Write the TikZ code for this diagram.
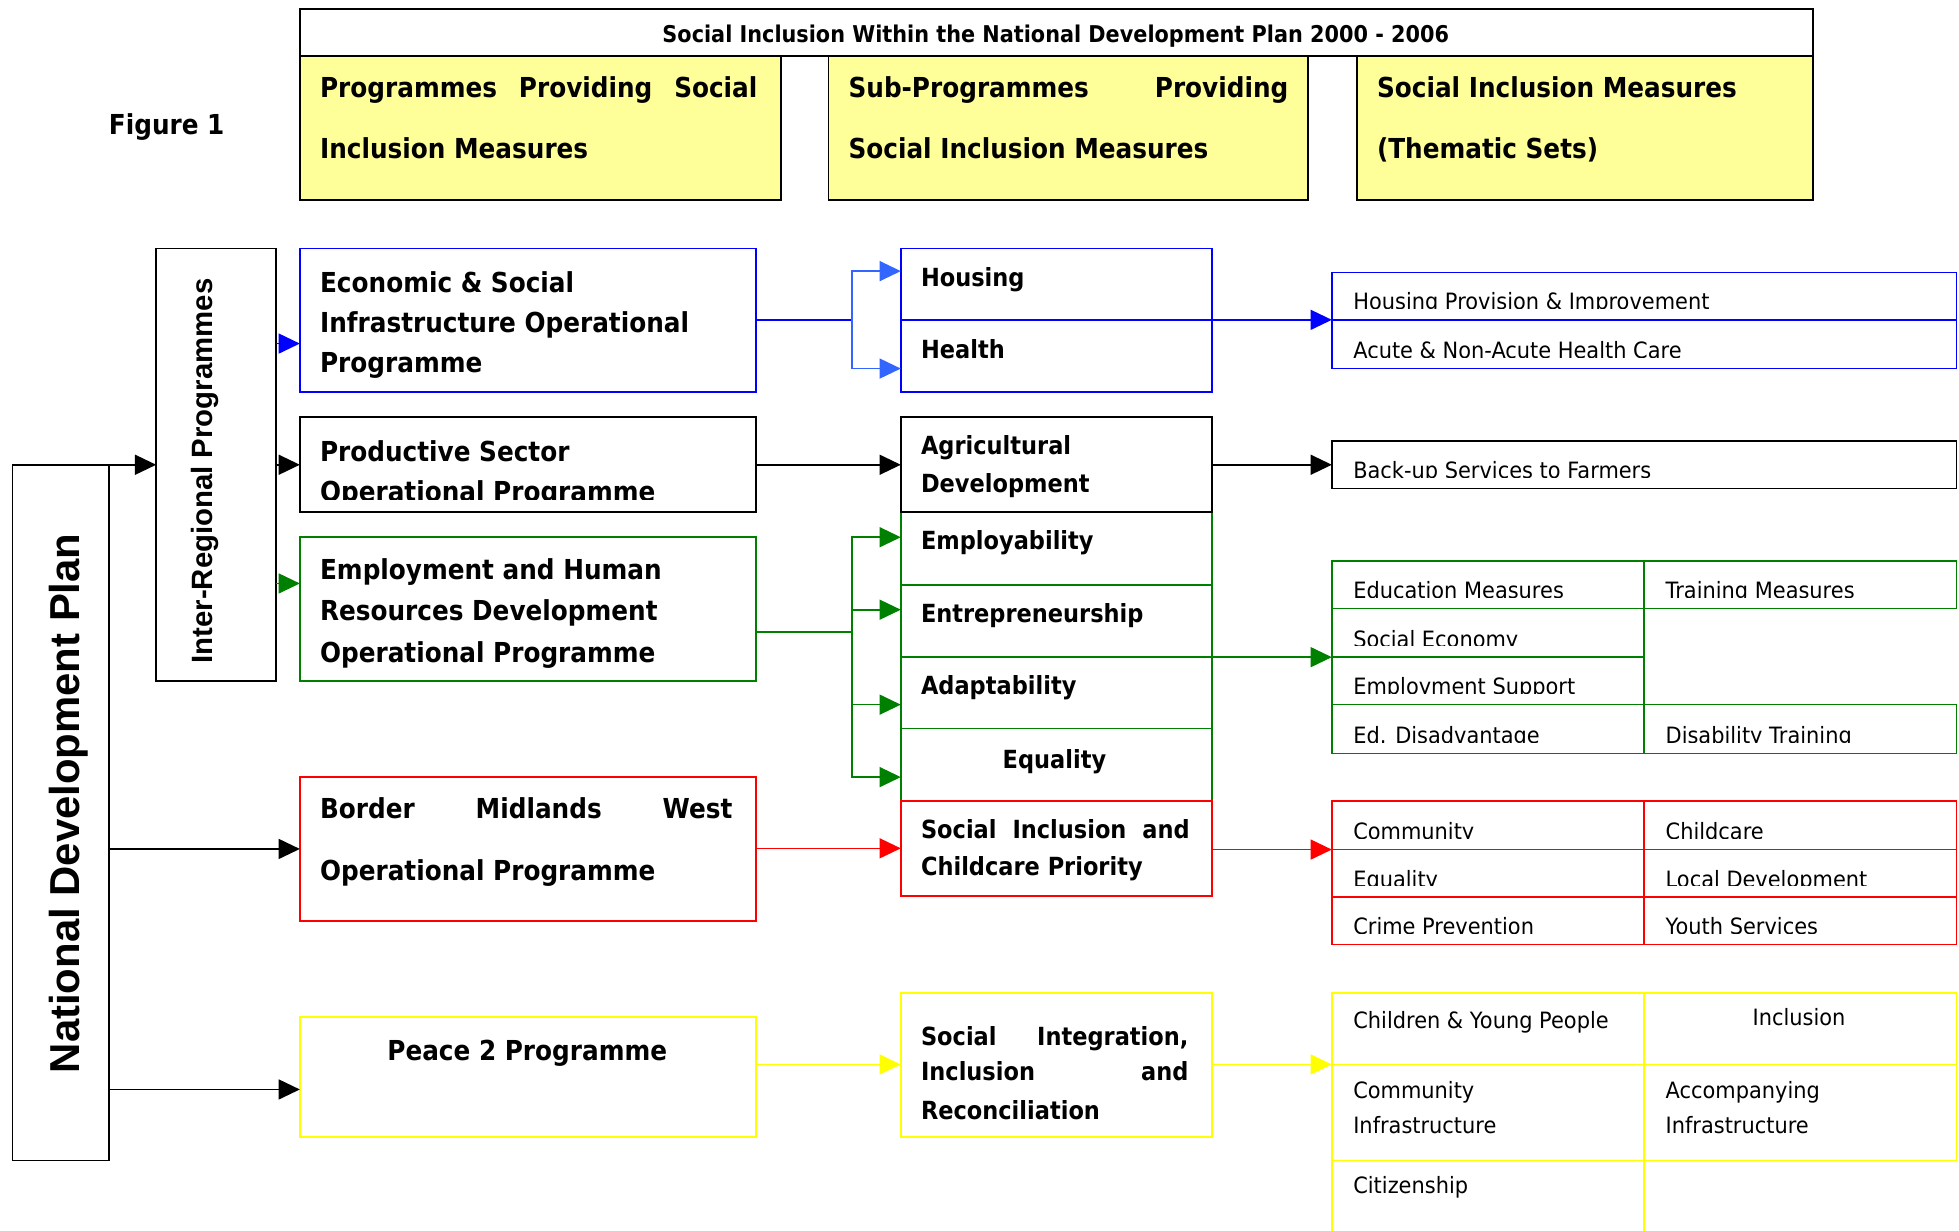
\documentclass[tikz,border=0pt]{standalone}
\usepackage{fontspec}
\setmainfont{DejaVu Sans}
\newfontfamily\bfn{DejaVu Sans}[FakeStretch=0.9]
\newfontfamily\rgn{DejaVu Sans}[FakeStretch=0.93]
\newfontfamily\lsb{Liberation Sans}
\usetikzlibrary{arrows.meta,calc}
\definecolor{hdr}{HTML}{FFFF99}
\definecolor{cblue}{HTML}{0000FF}
\definecolor{lblue}{HTML}{3366FF}
\definecolor{cgreen}{HTML}{008000}
\definecolor{cred}{HTML}{FF0000}
\definecolor{cyel}{HTML}{FFFF00}
\newcommand\cliptext[5]{\begin{scope}\clip (#3-4,#4-1) rectangle (#3+440,#4-40);
\node[#1] (#2) at (#3,#4) {#5};\end{scope}}
\begin{document}
\begin{tikzpicture}[x=1pt,y=-1pt,
  box/.style={draw, rectangle, inner sep=0pt, outer sep=0pt, anchor=north west, line width=1.3pt},
  tB/.style={anchor=base west, inner sep=0pt, font=\bfn\bfseries\fontsize{22}{26}\selectfont},
  tH/.style={anchor=base, inner sep=0pt, font=\bfn\bfseries\fontsize{18.5}{22}\selectfont},
  tM/.style={anchor=base west, inner sep=0pt, font=\bfn\bfseries\fontsize{20}{24}\selectfont},
  tR/.style={anchor=base west, inner sep=0pt, font=\rgn\fontsize{18}{22}\selectfont},
  ln/.style={line width=1.3pt},
  arr/.style={ln, -{Triangle[length=17pt,width=16pt]}}]
\useasboundingbox (0,0) rectangle (1568,985);
\fill[white] (0,0) rectangle (1568,985);

% header
\node[box, fill=white, minimum width=1211pt, minimum height=38pt] (title) at (240,7) {};
\node[box, fill=hdr, minimum width=385pt, minimum height=115pt] (h1) at (240,45) {};
\node[box, fill=hdr, minimum width=384pt, minimum height=115pt] (h2) at (663,45) {};
\node[box, fill=hdr, minimum width=365pt, minimum height=115pt] (h3) at (1086,45) {};
\node[tH] (ttl) at (845,34) {Social Inclusion Within the National Development Plan 2000 - 2006};
\node[tB] (h1a) at (256,78) {\makebox[350pt][s]{Programmes Providing Social}};
\node[tB] (h1b) at (256,127) {Inclusion Measures};
\node[tB] (h2a) at (679,78) {\makebox[352pt][s]{Sub-Programmes Providing}};
\node[tB] (h2b) at (679,127) {Social Inclusion Measures};
\node[tB] (h3a) at (1102,78) {Social Inclusion Measures};
\node[tB] (h3b) at (1102,127) {(Thematic Sets)};
\node[tB] (fig) at (87,108) {Figure 1};

% left boxes
\node[box, minimum width=77pt, minimum height=557pt] (ndp) at (10,372) {};
\node[rotate=90, anchor=base, inner sep=0pt, font=\lsb\bfseries\fontsize{33.5}{36}\selectfont] (ndpt) at (64,643) {National Development Plan};
\node[box, minimum width=96pt, minimum height=346pt] (inter) at (125,199) {};
\node[rotate=90, anchor=base, inner sep=0pt, font=\lsb\bfseries\fontsize{23.5}{26}\selectfont] (intert) at (170,377) {Inter-Regional Programmes};

% column 2
\node[box, cblue, minimum width=365pt, minimum height=115pt] (econ) at (240,199) {};
\node[box, minimum width=365pt, minimum height=76pt] (prod) at (240,334) {};
\node[box, cgreen, minimum width=365pt, minimum height=115pt] (emp) at (240,430) {};
\node[box, cred, minimum width=365pt, minimum height=115pt] (bord) at (240,622) {};
\node[box, cyel, minimum width=365pt, minimum height=96pt] (peace) at (240,814) {};
\node[tB] (econa) at (256,234) {Economic \& Social};
\node[tB] (econb) at (256,266) {Infrastructure Operational};
\node[tB] (econc) at (256,298) {Programme};
\node[tB] (proda) at (256,369) {Productive Sector};
\cliptext{tB}{prodb}{256}{401}{Operational Programme}
\node[tB] (empa) at (256,464) {Employment and Human};
\node[tB] (empb) at (256,497) {Resources Development};
\node[tB] (empc) at (256,530) {Operational Programme};
\node[tB] (borda) at (256,655) {\makebox[330pt][s]{Border Midlands West}};
\node[tB] (bordb) at (256,705) {Operational Programme};
\node[tB, anchor=base] (peacea) at (422,849) {Peace 2 Programme};

% column 3
\node[box, cgreen, minimum width=249pt, minimum height=58pt] (empl) at (721,410) {};
\node[box, cgreen, minimum width=249pt, minimum height=58pt] (entr) at (721,468) {};
\node[box, cgreen, minimum width=249pt, minimum height=57pt] (adap) at (721,526) {};
\node[box, cgreen, minimum width=249pt, minimum height=58pt] (equa) at (721,583) {};
\node[box, cblue, minimum width=249pt, minimum height=57pt] (hous) at (721,199) {};
\node[box, cblue, minimum width=249pt, minimum height=58pt] (heal) at (721,256) {};
\node[box, minimum width=249pt, minimum height=76pt] (agri) at (721,334) {};
\node[box, cred, minimum width=249pt, minimum height=76pt] (sic) at (721,641) {};
\node[box, cyel, minimum width=249pt, minimum height=115pt] (sir) at (721,795) {};
\node[tM] (housa) at (737,229) {Housing};
\node[tM] (heala) at (737,287) {Health};
\node[tM] (agria) at (737,364) {Agricultural};
\node[tM] (agrib) at (737,394) {Development};
\node[tM] (empla) at (737,440) {Employability};
\node[tM] (entra) at (737,498) {Entrepreneurship};
\node[tM] (adapa) at (737,556) {Adaptability};
\node[tM, anchor=base] (equaa) at (844,615) {Equality};
\node[tM] (sica) at (737,671) {\makebox[215pt][s]{Social Inclusion and}};
\node[tM] (sicb) at (737,701) {Childcare Priority};
\node[tM] (sira) at (737,837) {\makebox[214pt][s]{Social Integration,}};
\node[tM] (sirb) at (737,865) {\makebox[214pt][s]{Inclusion and}};
\node[tM] (sirc) at (737,896) {Reconciliation};

% column 4
\node[box, cblue, minimum width=500pt, minimum height=38pt] (hp) at (1066,218) {};
\node[box, cblue, minimum width=500pt, minimum height=39pt] (ac) at (1066,256) {};
\node[box, minimum width=500pt, minimum height=38pt] (bu) at (1066,353) {};
\node[box, cgreen, minimum width=250pt, minimum height=38pt] (edu) at (1066,449) {};
\node[box, cgreen, minimum width=250pt, minimum height=38pt] (trn) at (1316,449) {};
\node[box, cgreen, minimum width=250pt, minimum height=39pt] (soc) at (1066,487) {};
\node[box, cgreen, minimum width=250pt, minimum height=38pt] (emps) at (1066,526) {};
\node[box, cgreen, minimum width=250pt, minimum height=39pt] (eddis) at (1066,564) {};
\node[box, cgreen, minimum width=250pt, minimum height=39pt] (dis) at (1316,564) {};
\node[box, cred, minimum width=250pt, minimum height=39pt] (comm) at (1066,641) {};
\node[box, cred, minimum width=250pt, minimum height=39pt] (child) at (1316,641) {};
\node[box, cred, minimum width=250pt, minimum height=38pt] (equ) at (1066,680) {};
\node[box, cred, minimum width=250pt, minimum height=38pt] (loc) at (1316,680) {};
\node[box, cred, minimum width=250pt, minimum height=38pt] (crime) at (1066,718) {};
\node[box, cred, minimum width=250pt, minimum height=38pt] (youth) at (1316,718) {};
\node[box, cyel, minimum width=250pt, minimum height=57pt] (cyp) at (1066,795) {};
\node[box, cyel, minimum width=250pt, minimum height=57pt] (incl) at (1316,795) {};
\node[box, cyel, minimum width=250pt, minimum height=77pt] (cinf) at (1066,852) {};
\node[box, cyel, minimum width=250pt, minimum height=77pt] (ainf) at (1316,852) {};
\node[box, cyel, minimum width=250pt, minimum height=70pt] (citz) at (1066,929) {};

\cliptext{tR}{hpt}{1083}{248}{Housing Provision \& Improvement}
\cliptext{tR}{act}{1083}{287}{Acute \& Non-Acute Health Care}
\cliptext{tR}{but}{1083}{383}{Back-up Services to Farmers}
\cliptext{tR}{edut}{1083}{479}{Education Measures}
\cliptext{tR}{trnt}{1333}{479}{Training Measures}
\cliptext{tR}{soct}{1083}{518}{Social Economy}
\cliptext{tR}{empst}{1083}{556}{Employment Support}
\cliptext{tR}{eddist}{1083}{595}{Ed. Disadvantage}
\cliptext{tR}{dist}{1333}{595}{Disability Training}
\cliptext{tR}{commt}{1083}{672}{Community}
\cliptext{tR}{childt}{1333}{672}{Childcare}
\cliptext{tR}{equt}{1083}{710}{Equality}
\cliptext{tR}{loct}{1333}{710}{Local Development}
\cliptext{tR}{crimet}{1083}{748}{Crime Prevention}
\cliptext{tR}{youtht}{1333}{748}{Youth Services}
\node[tR] (cypt) at (1083,823) {Children \& Young People};
\node[tR, anchor=base] (inclt) at (1440,821) {Inclusion};
\node[tR] (cinfa) at (1083,879) {Community};
\node[tR] (cinfb) at (1083,907) {Infrastructure};
\node[tR] (ainfa) at (1333,879) {Accompanying};
\node[tR] (ainfb) at (1333,907) {Infrastructure};
\node[tR] (citzt) at (1083,955) {Citizenship};

% connectors: NDP
\draw[arr] (ndp.north east) -- (inter.west |- ndp.north east);
\draw[arr] (ndp.east |- bord.west) -- (bord.west);
\coordinate (peacein) at ($(peace.north west)+(0,58)$);
\draw[arr] (ndp.east |- peacein) -- (peacein);
% Inter-regional
\coordinate (econin) at ($(econ.north west)+(0,76)$);
\draw[arr, cblue] (inter.east |- econin) -- (econin);
\draw[arr] (inter.east |- prod.west) -- (prod.west);
\coordinate (empin) at ($(emp.north west)+(0,37)$);
\draw[arr, cgreen] (inter.east |- empin) -- (empin);
% column 2 -> 3
\coordinate (bj) at (682,256);
\draw[ln, cblue] (econ.east |- bj) -- (bj);
\coordinate (housin) at ($(hous.north west)+(0,18)$);
\coordinate (healin) at ($(heal.north west)+(0,39)$);
\draw[arr, lblue] (bj) |- (housin);
\draw[arr, lblue] (bj) |- (healin);
\draw[arr] (prod.east) -- (agri.west);
\coordinate (gj) at (682,506);
\draw[ln, cgreen] (emp.east |- gj) -- (gj);
\coordinate (emplin) at ($(empl.north west)+(0,20)$);
\coordinate (entrin) at ($(entr.north west)+(0,20)$);
\coordinate (adapin) at ($(adap.north west)+(0,38)$);
\coordinate (equain) at ($(equa.north west)+(0,39)$);
\draw[arr, cgreen] (gj) |- (emplin);
\draw[arr, cgreen] (gj) |- (entrin);
\draw[arr, cgreen] (gj) |- (adapin);
\draw[arr, cgreen] (gj) |- (equain);
\draw[arr, cred] (bord.east |- sic.west) -- (sic.west);
\draw[arr, cyel] (peace.east |- cyp.south west) -- (sir.west |- cyp.south west);
% column 3 -> 4
\draw[arr, cblue] (hous.south east) -- (hp.south west);
\draw[arr] (agri.east) -- (bu.west);
\draw[arr, cgreen] (entr.south east) -- (soc.south west);
\draw[arr, cred] (sic.east |- comm.south west) -- (comm.south west);
\draw[arr, cyel] (sir.east |- cyp.south west) -- (cyp.south west);
\end{tikzpicture}
\end{document}
